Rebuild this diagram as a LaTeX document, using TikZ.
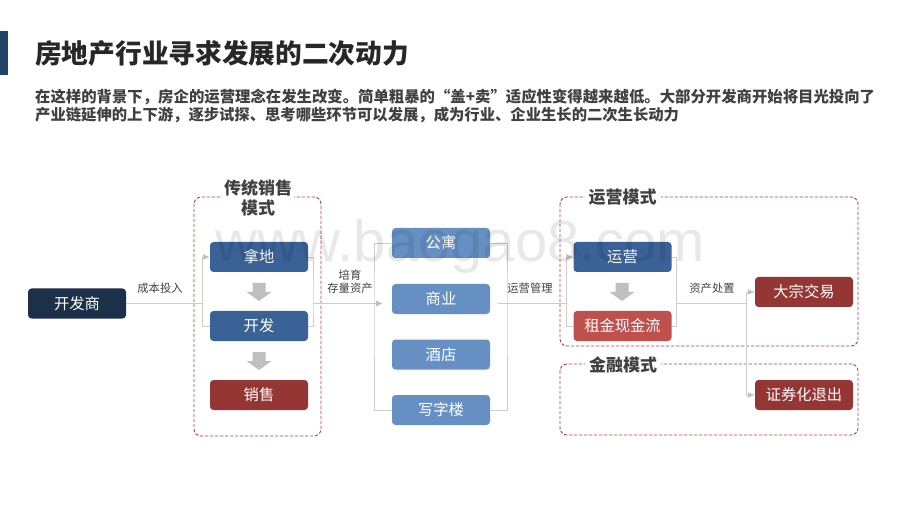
\documentclass[tikz,border=0pt]{standalone}
\usepackage{fontspec}
\setmainfont{Noto Sans CJK SC}
\newfontfamily\markfont{Liberation Sans}
\usetikzlibrary{arrows.meta}
\definecolor{navyBox}{HTML}{1D3049}
\definecolor{tabBar}{HTML}{1F4468}
\definecolor{blueBox}{HTML}{3A6296}
\definecolor{lightBox}{HTML}{6690C4}
\definecolor{redBox}{HTML}{943634}
\definecolor{roseBox}{HTML}{C0504D}
\definecolor{frameRed}{HTML}{B23F46}
\definecolor{darkText}{HTML}{404040}
\definecolor{lineGray}{HTML}{CDCDCD}
\definecolor{blockGray}{HTML}{BFBFBF}
\begin{document}
\begin{tikzpicture}
[x=1pt,y=-1pt,
  boxDecorate/.style={shape=rectangle,rounded corners=3.5pt,minimum width=98pt,minimum height=30pt,inner sep=0pt,text=white,font=\fontsize{15.3}{18}\selectfont},
  navyNode/.style={boxDecorate,fill=navyBox},
  blueNode/.style={boxDecorate,fill=blueBox},
  lightNode/.style={boxDecorate,fill=lightBox},
  redNode/.style={boxDecorate,fill=redBox},
  roseNode/.style={boxDecorate,fill=roseBox},
  frameDecorate/.style={draw=frameRed,line width=0.9pt,dash pattern=on 3.2pt off 1.8pt,rounded corners=7pt},
  frameTitle/.style={fill=white,inner sep=2pt,align=center,text=darkText,font=\fontsize{17}{20}\selectfont\bfseries},
  lineDecorate/.style={draw=lineGray,line width=0.9pt},
  arrowDecorate/.style={lineDecorate,-{Latex[length=7pt,width=6pt,color=blockGray]}},
  smallLabel/.style={inner sep=0pt,align=center,text=darkText,font=\fontsize{11.3}{13.5}\selectfont}]
\useasboundingbox (0,0) rectangle (920,518);
%% heading
\fill[fill=tabBar] (0,31) rectangle (8,75);
\node (heading) at (35,53) [anchor=west,inner sep=0pt,text=darkText!60!black,font=\fontsize{26.7}{30}\selectfont\bfseries] {房地产行业寻求发展的二次动力};
\node (introA) at (35,97) [anchor=west,inner sep=0pt,text=darkText,font=\fontsize{15.38}{18}\selectfont\bfseries] {在这样的背景下，房企的运营理念在发生改变。简单粗暴的“盖+卖”适应性变得越来越低。大部分开发商开始将目光投向了};
\node (introB) at (35,115) [anchor=west,inner sep=0pt,text=darkText,font=\fontsize{15.33}{18}\selectfont\bfseries] {产业链延伸的上下游，逐步试探、思考哪些环节可以发展，成为行业、企业生长的二次生长动力};
%% dashed frames
\draw[frameDecorate] (194,197) rectangle (321,436);
\draw[frameDecorate] (560,197) rectangle (858,346);
\draw[frameDecorate] (560,364) rectangle (858,435);
\node (tradeTitle) at (258,198) [frameTitle] {传统销售\\模式};
\node (operTitle) at (622.5,197) [frameTitle,inner sep=4pt] {运营模式};
\node (finTitle) at (623,365) [frameTitle,inner sep=4pt] {金融模式};
%% boxes
\foreach \nodename/\x/\y/\nodetext/\nodestyle in {
  developer/77/303.5/开发商/navyNode,
  land/259/257/拿地/blueNode, build/259/326/开发/blueNode, sale/259/395/销售/redNode,
  flat/441/243/公寓/lightNode, shop/441/299/商业/lightNode,
  hotel/441/354.5/酒店/lightNode, office/441/410/写字楼/lightNode,
  operate/622.5/257/运营/blueNode, rent/622.5/326/租金现金流/roseNode,
  bulk/804/292/大宗交易/redNode, reit/804/395/证券化退出/redNode}
{
  \node (\nodename) at (\x,\y) [\nodestyle] {\nodetext};
}
%% joints
\foreach \nodename/\x/\y in {
  splitA/202/303.5, mergeA/313/303.5, tipA/383/303.5, barA/374/303.5,
  barB/507/303.5, startB/498/303.5, splitB/566/303.5, mergeB/676/303.5, splitC/746/303.5}
{
  \coordinate (\nodename) at (\x,\y);
}
%% connectors
\path
\foreach \startnode/\endnode in {
  developer/splitA, startB/splitB, mergeB/splitC}
{
  (\startnode) edge[lineDecorate] (\endnode)
};
\draw[arrowDecorate] (mergeA) -- (tipA);
\draw[arrowDecorate] (splitA) |- (land.west);
\draw[lineDecorate] (splitA) |- (build.west);
\draw[lineDecorate] (land.east) -| (mergeA) |- (build.east);
\draw[lineDecorate] (flat.west) -| (barA) |- (office.west);
\draw[lineDecorate] (flat.east) -| (barB) |- (office.east);
\draw[arrowDecorate] (splitB) |- (operate.west);
\draw[lineDecorate] (splitB) |- (rent.west);
\draw[lineDecorate] (operate.east) -| (mergeB) |- (rent.east);
\draw[arrowDecorate] (splitC) |- (bulk.west);
\draw[arrowDecorate] (splitC) |- (reit.west);
%% block arrows
\foreach \x/\y in {259/283, 259/352, 622/283}
{
  \fill[blockGray] (\x-6.5,\y) -- (\x+6.5,\y) -- (\x+6.5,\y+9) -- (\x+12.5,\y+9) -- (\x,\y+18) -- (\x-12.5,\y+9) -- (\x-6.5,\y+9) -- cycle;
}
%% labels
\node (costLabel) at (160,288.5) [smallLabel] {成本投入};
\node (growLabel) at (350,281.5) [smallLabel] {培育\\存量资产};
\node (manageLabel) at (530,288.5) [smallLabel] {运营管理};
\node (exitLabel) at (712,288.5) [smallLabel] {资产处置};
%% watermark
\node (stamp) at (215,262) [anchor=base west,inner sep=0pt,text=black,text opacity=0.09,font=\fontsize{58}{60}\selectfont\markfont] {www.baogao8.com};
\end{tikzpicture}
\end{document}
